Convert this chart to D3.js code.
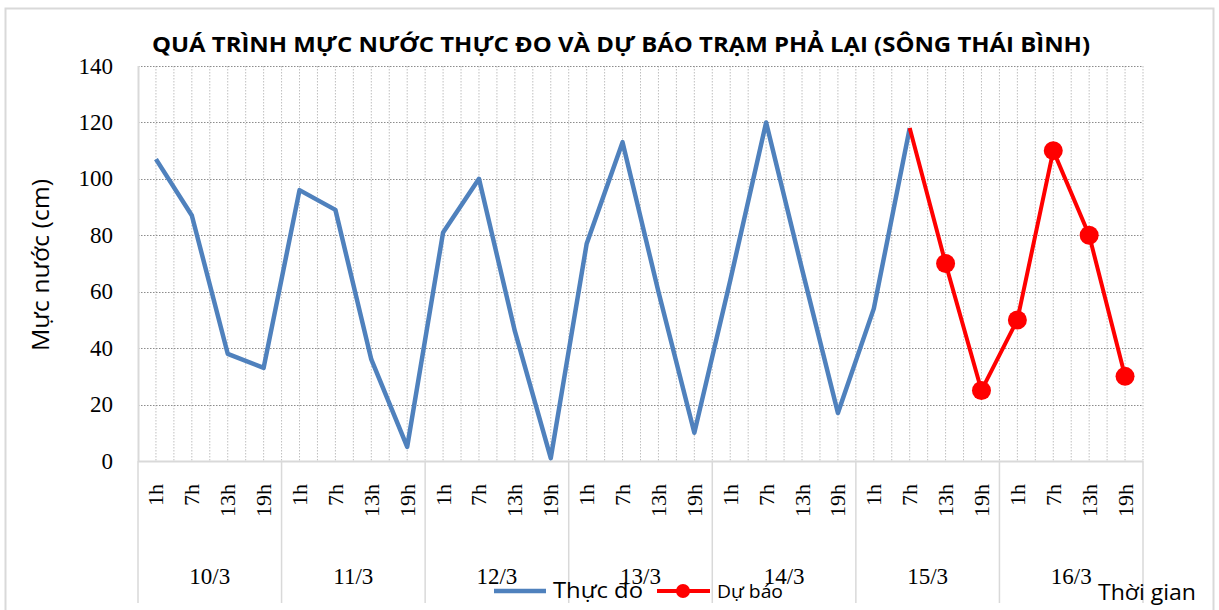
<!DOCTYPE html>
<html>
<head>
<meta charset="utf-8">
<script src="https://cdn.jsdelivr.net/npm/d3@7"></script>
<style>
    body { margin: 0; background: #fff; }
    svg { display: block; }
    .serif { font-family: "Liberation Serif", "DejaVu Serif", serif; fill: #000; }
    .sans { font-family: "Open Sans", "Noto Sans", sans-serif; fill: #000; }
</style>
</head>
<body>
<div id="chart"></div>
<script>
var days = ["10/3", "11/3", "12/3", "13/3", "14/3", "15/3", "16/3"];
var hours = ["1h", "7h", "13h", "19h"];
var yTicks = [0, 20, 40, 60, 80, 100, 120, 140];

// muc nuoc thuc do, 4 lan / ngay, tu 10/3 1h den 15/3 7h
var observed = [
    107, 87, 38, 33,
    96, 89, 36, 5,
    81, 100, 46, 1,
    77, 113, 60, 10,
    64, 120, 68, 17,
    54, 118
];

// du bao, bat dau noi tu 15/3 7h
var forecastStart = 21;
var forecast = [118, 70, 25, 50, 110, 80, 30];

(function() {
    var W = 1219, H = 610;
    var margin = {top: 66, right: 76, bottom: 149, left: 138}
        , width = W - margin.left - margin.right
        , height = H - margin.top - margin.bottom;

    var svg = d3.select("#chart")
        .append("svg")
        .attr("width", W)
        .attr("height", H);

    // khung ngoai
    svg.append("rect")
        .attr("x", 5.5).attr("y", 8.5)
        .attr("width", 1208).attr("height", 610)
        .attr("fill", "#fff")
        .attr("stroke", "#d9d9d9")
        .attr("stroke-width", 2);

    var cats = [];
    days.forEach(function(d) {
        hours.forEach(function(h) { cats.push({day: d, hour: h}); });
    });

    var x = d3.scaleBand()
        .domain(d3.range(cats.length))
        .range([0, width])
        .paddingInner(0)
        .paddingOuter(0);
    var bw = x.bandwidth();
    var cx = function(i) { return x(i) + bw / 2; };

    var y = d3.scaleLinear()
        .domain([0, 140])
        .range([height, 0]);

    var g = svg.append("g")
        .attr("transform", "translate(" + margin.left + "," + margin.top + ")");

    // luoi doc: tai tam va bien moi moc
    var vgrid = [];
    d3.range(cats.length).forEach(function(i) {
        vgrid.push(x(i) + bw / 2);
        vgrid.push(x(i) + bw);
    });
    g.append("g")
        .selectAll("line")
        .data(vgrid)
        .enter().append("line")
        .attr("x1", d => d).attr("x2", d => d)
        .attr("y1", 0).attr("y2", height)
        .attr("stroke", "#bfbfbf")
        .attr("stroke-width", 1)
        .attr("stroke-dasharray", "1.5,1.5");

    // luoi ngang
    g.append("g")
        .selectAll("line")
        .data(yTicks.filter(v => v > 0))
        .enter().append("line")
        .attr("x1", 0).attr("x2", width)
        .attr("y1", d => Math.round(y(d)) + 0.5).attr("y2", d => Math.round(y(d)) + 0.5)
        .attr("stroke", "#8c8c8c")
        .attr("stroke-width", 1)
        .attr("stroke-dasharray", "1.5,1.5");

    // truc
    g.append("line")
        .attr("x1", 0.5).attr("x2", 0.5)
        .attr("y1", 0).attr("y2", height)
        .attr("stroke", "#d9d9d9").attr("stroke-width", 2);
    g.append("line")
        .attr("x1", 0).attr("x2", width)
        .attr("y1", height + 0.5).attr("y2", height + 0.5)
        .attr("stroke", "#d9d9d9").attr("stroke-width", 2);

    // nhan truc y
    g.append("g")
        .selectAll("text")
        .data(yTicks)
        .enter().append("text")
        .attr("class", "serif")
        .attr("x", -25)
        .attr("y", d => y(d) + 7.5)
        .attr("text-anchor", "end")
        .style("font-size", "23px")
        .text(d => d);

    // vach phan cach ngay
    g.append("g")
        .selectAll("line")
        .data(d3.range(days.length + 1))
        .enter().append("line")
        .attr("x1", d => d === days.length ? width : x(d * 4))
        .attr("x2", d => d === days.length ? width : x(d * 4))
        .attr("y1", height).attr("y2", height + 142)
        .attr("stroke", "#d9d9d9").attr("stroke-width", 1.5);

    // nhan gio (xoay)
    g.append("g")
        .selectAll("text")
        .data(cats)
        .enter().append("text")
        .attr("class", "serif")
        .attr("transform", (d, i) => "translate(" + (cx(i) + 7.5) + "," + (height + 23) + ") rotate(-90)")
        .attr("text-anchor", "end")
        .style("font-size", "22px")
        .text(d => d.hour);

    // nhan ngay
    g.append("g")
        .selectAll("text")
        .data(days)
        .enter().append("text")
        .attr("class", "serif")
        .attr("x", (d, i) => x(i * 4) + bw * 2)
        .attr("y", height + 123)
        .attr("text-anchor", "middle")
        .style("font-size", "23px")
        .text(d => d);

    // duong thuc do
    var line = d3.line()
        .x(d => cx(d.i))
        .y(d => y(d.v))
        .curve(d3.curveLinear);

    var obsData = observed.map((v, i) => ({i: i, v: v}));
    var fcData = forecast.map((v, k) => ({i: forecastStart + k, v: v}));

    g.append("path")
        .attr("d", line(obsData))
        .attr("fill", "none")
        .attr("stroke", "#4f81bd")
        .attr("stroke-width", 4.5)
        .attr("stroke-linejoin", "round");

    g.append("path")
        .attr("d", line(fcData))
        .attr("fill", "none")
        .attr("stroke", "#ff0000")
        .attr("stroke-width", 4)
        .attr("stroke-linejoin", "round");

    g.append("g")
        .selectAll("circle")
        .data(fcData.slice(1))
        .enter().append("circle")
        .attr("cx", d => cx(d.i))
        .attr("cy", d => y(d.v))
        .attr("r", 9.5)
        .attr("fill", "#ff0000");

    // tieu de
    svg.append("text")
        .attr("class", "sans")
        .attr("x", 621)
        .attr("y", 52)
        .attr("text-anchor", "middle")
        .attr("textLength", 938)
        .attr("lengthAdjust", "spacingAndGlyphs")
        .style("font-size", "22px")
        .style("font-weight", "bold")
        .text("QUÁ TRÌNH MỰC NƯỚC THỰC ĐO VÀ DỰ BÁO TRẠM PHẢ LẠI (SÔNG THÁI BÌNH)");

    // tieu de truc y
    svg.append("text")
        .attr("class", "sans")
        .attr("transform", "translate(49,265) rotate(-90)")
        .attr("text-anchor", "middle")
        .attr("textLength", 172)
        .attr("lengthAdjust", "spacingAndGlyphs")
        .style("font-size", "23px")
        .text("Mực nước (cm)");

    svg.append("text")
        .attr("class", "sans")
        .attr("x", 1098)
        .attr("y", 600)
        .attr("textLength", 98)
        .attr("lengthAdjust", "spacingAndGlyphs")
        .style("font-size", "22px")
        .text("Thời gian");

    // chu giai
    var lg = svg.append("g");
    lg.append("line")
        .attr("x1", 494).attr("x2", 546)
        .attr("y1", 591).attr("y2", 591)
        .attr("stroke", "#4f81bd").attr("stroke-width", 4.5);
    lg.append("text")
        .attr("class", "sans")
        .attr("x", 553).attr("y", 598)
        .attr("textLength", 90)
        .attr("lengthAdjust", "spacingAndGlyphs")
        .style("font-size", "21px")
        .text("Thực đo");
    lg.append("line")
        .attr("x1", 657).attr("x2", 710)
        .attr("y1", 591).attr("y2", 591)
        .attr("stroke", "#ff0000").attr("stroke-width", 4);
    lg.append("circle")
        .attr("cx", 683).attr("cy", 591).attr("r", 7)
        .attr("fill", "#ff0000");
    lg.append("text")
        .attr("class", "sans")
        .attr("x", 717).attr("y", 598)
        .attr("textLength", 66)
        .attr("lengthAdjust", "spacingAndGlyphs")
        .style("font-size", "19px")
        .text("Dự báo");
})();
</script>
</body>
</html>
